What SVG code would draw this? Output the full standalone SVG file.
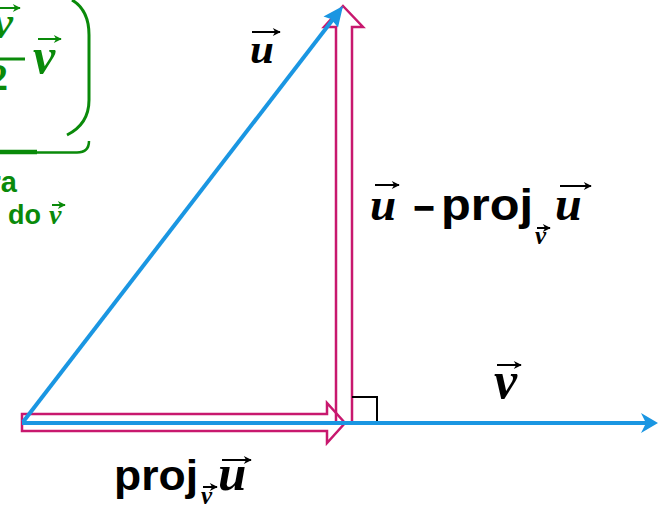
<svg xmlns="http://www.w3.org/2000/svg" width="658" height="507" viewBox="0 0 658 507">
<defs>
<style>
.vec{font-family:"Liberation Serif","Times New Roman",serif;font-weight:bold;font-style:italic;fill:#000}
.sans{font-family:"Liberation Sans",Arial,sans-serif;font-weight:bold;fill:#000}
.g{fill:#0a8a0a}
.va{stroke:#000;stroke-width:2;fill:none;marker-end:url(#vh)}
.vag{stroke:#0a8a0a;stroke-width:2;fill:none;marker-end:url(#vhg)}
.pink{fill:none;stroke:#c8186e;stroke-width:2.5;stroke-linejoin:miter}
.blue{stroke:#1a96e2;stroke-width:4;fill:none}
.bhead{fill:#1a96e2}
</style>
<marker id="vh" viewBox="0 0 10 10" refX="9" refY="5" markerWidth="9" markerHeight="8" markerUnits="userSpaceOnUse" orient="auto"><path d="M0 0 L10 5 L0 10 L3 5 z" fill="#000"/></marker>
<marker id="vhg" viewBox="0 0 10 10" refX="9" refY="5" markerWidth="9" markerHeight="8" markerUnits="userSpaceOnUse" orient="auto"><path d="M0 0 L10 5 L0 10 L3 5 z" fill="#0a8a0a"/></marker>
</defs>

<g id="formula-box">
<path d="M72 0 Q89 10 89 35 L89 100 Q89 124 67 135" fill="none" stroke="#0a8a0a" stroke-width="3"/>
<path d="M0 152 H37" stroke="#0a8a0a" stroke-width="4.5" fill="none"/>
<path d="M37 152.5 H77 Q89 152.5 89 141" stroke="#0a8a0a" stroke-width="2.5" fill="none"/>
<text class="vec g" x="13" y="38" font-size="46" text-anchor="end">v</text>
<path class="vag" d="M-12 8 H20"/>
<path d="M0 59 H25" stroke="#0a8a0a" stroke-width="3"/>
<text class="g" x="8" y="90" font-size="38" text-anchor="end" font-family="Liberation Serif, serif" font-weight="bold">2</text>
<text class="vec g" x="33" y="73" font-size="50">v</text>
<path class="vag" d="M38 39 H61"/>
</g>

<g id="caption">
<text class="g" x="17" y="192" font-size="29" text-anchor="end" font-family="Liberation Sans, Arial, sans-serif" font-weight="bold">ra</text>
<text class="g" x="8" y="224" font-size="27" font-family="Liberation Sans, Arial, sans-serif" font-weight="bold">do</text>
<text class="vec g" x="49" y="224" font-size="28">v</text>
<path class="vag" d="M52 205 H65"/>
</g>

<g id="connectors">
<g id="proj-arrow">
<polygon class="pink" points="22,414 327,414 327,403 345,423 327,443 327,431 22,431"/>
</g>
<g id="diff-arrow">
<polyline class="pink" points="336,421 336,27 324,27 343,6 363,27 352,27 352,421"/>
</g>
<path d="M352 397 H377 V423" stroke="#000" stroke-width="2" fill="none"/>
<g id="u-arrow">
<line class="blue" x1="23" y1="422" x2="334" y2="18"/>
<polygon class="bhead" points="343,6 338,27.5 331,19 323.5,16.5"/>
</g>
<g id="v-arrow">
<line class="blue" x1="22" y1="423" x2="646" y2="423"/>
<polygon class="bhead" points="658,423 641,413 646,423 641,433"/>
</g>
</g>

<g id="label-u">
<text class="vec" x="250" y="63" font-size="43">u</text>
<path class="va" d="M252 32 H280"/>
</g>

<g id="label-diff">
<text class="vec" x="370" y="220" font-size="47">u</text>
<path class="va" d="M375 185 H399"/>
<text class="sans" x="413" y="223" font-size="44" textLength="22" lengthAdjust="spacingAndGlyphs">−</text>
<text class="sans" x="441" y="220" font-size="44" textLength="92" lengthAdjust="spacingAndGlyphs">proj</text>
<text class="vec" x="535" y="244" font-size="25">v</text>
<path class="va" d="M537 228 H550"/>
<text class="vec" x="555" y="220" font-size="48">u</text>
<path class="va" d="M560 186 H591"/>
</g>

<g id="label-v">
<text class="vec" x="494" y="398" font-size="52">v</text>
<path class="va" d="M497 365 H521"/>
</g>

<g id="label-proj">
<text class="sans" x="114" y="490" font-size="43" textLength="84" lengthAdjust="spacingAndGlyphs">proj</text>
<text class="vec" x="201" y="504" font-size="25">v</text>
<path class="va" d="M203 487 H217"/>
<text class="vec" x="218" y="490" font-size="51">u</text>
<path class="va" d="M222 460 H251"/>
</g>
</svg>
